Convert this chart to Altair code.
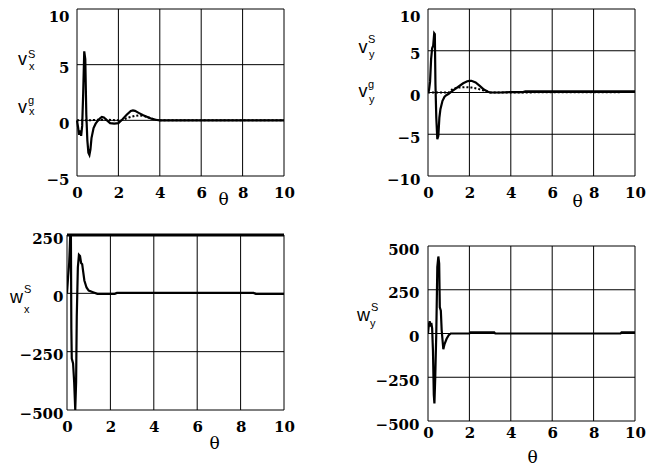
import altair as alt
import pandas as pd

# ---------------- data ----------------
THETA_TICKS = [0, 2, 4, 6, 8, 10]

# Panel 1: v_x^S (solid) and v_x^g (dotted)
th_vxs = [0, 0.05, 0.1, 0.15, 0.2, 0.25, 0.3, 0.35, 0.4, 0.45, 0.5, 0.55, 0.6, 0.65, 0.7, 0.8, 0.9, 1.0, 1.1, 1.2,
          1.3, 1.45, 1.6, 1.8, 2.0, 2.2, 2.4, 2.6, 2.7, 2.8, 3.0, 3.2, 3.4, 3.6, 3.8, 4.0, 4.3, 5, 6, 7, 8, 9, 10]
vxs = [0, -0.6, -1.3, -0.9, -1.4, -0.5, 2.5, 6.2, 5.5, 0.5, -1.8, -2.9, -3.1, -2.6, -1.6, -0.7, -0.3, -0.05, 0.15, 0.3,
       0.25, 0.0, -0.25, -0.3, -0.25, 0.1, 0.5, 0.85, 0.9, 0.85, 0.65, 0.45, 0.3, 0.15, 0.05, 0, 0, 0, 0, 0, 0, 0, 0]
th_vxg = [0, 0.5, 1.0, 1.5, 2.0, 2.2, 2.5, 2.8, 3.0, 3.2, 3.4, 3.6, 3.8, 4.0, 10]
vxg = [0, 0, 0.05, 0.05, 0, 0.05, 0.25, 0.4, 0.45, 0.4, 0.3, 0.15, 0.05, 0, 0]
vx_yticks = [-5, 0, 5, 10]

# Panel 2: v_y^S (solid) and v_y^g (dotted)
th_vys = [0, 0.05, 0.1, 0.15, 0.2, 0.25, 0.3, 0.33, 0.36, 0.4, 0.45, 0.5, 0.55, 0.6, 0.7, 0.8, 0.9, 1.0, 1.1, 1.3,
          1.5, 1.7, 1.9, 2.0, 2.1, 2.3, 2.5, 2.7, 2.9, 3.0, 3.5, 4.0, 4.6, 4.7, 10]
vys = [0, 0.3, 1.3, 4.0, 5.3, 5.6, 7.1, 7.0, 1.0, -3.0, -5.6, -5.2, -3.0, -2.0, -1.0, -0.5, -0.3, -0.15, 0.05, 0.4,
       0.75, 1.1, 1.35, 1.4, 1.4, 1.2, 0.8, 0.35, 0.1, 0.0, 0.0, 0.05, 0.05, 0.15, 0.15]
th_vyg = [0, 1.0, 1.2, 1.5, 1.8, 2.1, 2.4, 2.7, 3.0, 10]
vyg = [0, 0, 0.45, 0.6, 0.65, 0.6, 0.45, 0.25, 0, 0.05]
vy_yticks = [-10, -5, 0, 5, 10]

# Panel 3: w_x^S
th_wx = [0, 0.05, 0.1, 0.13, 0.15, 0.18, 0.2, 0.22, 0.28, 0.33, 0.38, 0.42, 0.45, 0.5, 0.55, 0.6, 0.65, 0.7, 0.75,
         0.8, 0.9, 1.0, 1.2, 1.4, 2.2, 2.3, 8.6, 8.7, 10]
wx = [0, 70, 130, 200, 250, 250, -150, -280, -300, -380, -500, -380, -100, 110, 165, 160, 130, 125, 90,
      55, 25, 12, 5, -2, -2, 2, 2, -2, -2]
wx_yticks = [-500, -250, 0, 250]

# Panel 4: w_y^S
th_wy = [0, 0.04, 0.08, 0.12, 0.16, 0.2, 0.24, 0.28, 0.31, 0.35, 0.4, 0.45, 0.5, 0.54, 0.57, 0.62, 0.66, 0.74, 0.8,
         0.9, 1.0, 1.1, 2.0, 2.05, 3.2, 3.25, 9.3, 9.35, 10]
wy = [0, 50, 70, 40, 60, 30, -100, -350, -400, -250, 0, 380, 440, 400, 150, 130, 20, -90, -60,
      -30, -10, 0, 0, 6, 6, 0, 0, 6, 6]
wy_yticks = [-500, -250, 0, 250, 500]

# axis-label pieces: (main letter, superscript, subscript)
LBL_P1 = [("v", "S", "x"), ("v", "g", "x")]
LBL_P2 = [("v", "S", "y"), ("v", "g", "y")]
LBL_P3 = [("w", "S", "x")]
LBL_P4 = [("w", "S", "y")]

ONE = pd.DataFrame({"k": [0]})
SERIF = "DejaVu Serif"
SANS = "Liberation Sans"


def glyph(t, x, y, size, align="left"):
    return alt.Chart(ONE).mark_text(
        text=t, font=SANS, fontSize=size, align=align, baseline="alphabetic", color="black"
    ).encode(x=alt.value(x), y=alt.value(y))


def ylabel(pieces, vx, vy, sx, sy, bx, by):
    main, sup, sub = pieces
    return [glyph(main, vx, vy, 18, "center"), glyph(sup, sx, sy, 11), glyph(sub, bx, by, 11)]


def panel(solid, dotted, yticks, width, height, xlabpad, ylabpad, theta_xy,
          labels, xrange=None, yrange=None, yoffset=0, top_cond=False, thick_top=False, anchor=None):
    ymin, ymax = yticks[0], yticks[-1]
    xs_kw = dict(domain=[0, 10], nice=False, zero=False)
    if xrange is not None:
        xs_kw["range"] = xrange
    ys_kw = dict(domain=[ymin, ymax], nice=False, zero=False)
    if yrange is not None:
        ys_kw["range"] = yrange
    xscale = alt.Scale(**xs_kw)
    yscale = alt.Scale(**ys_kw)

    xaxis = alt.Axis(values=THETA_TICKS, title="θ", titleX=theta_xy[0], titleY=theta_xy[1],
                     titleFont=SERIF, titleFontSize=17, titleFontWeight="normal", titleColor="black",
                     titleAlign="center", titleBaseline="middle", titleAngle=0,
                     labelFont=SERIF, labelFontSize=15, labelFontWeight="bold", labelColor="black",
                     labelPadding=xlabpad, labelFlush=False, labelOverlap=False,
                     ticks=False, tickSize=0, domain=False, grid=False, format="d")
    y_kw = dict(values=yticks, title="", orient="left",
                labelFont=SERIF, labelFontSize=15, labelFontWeight="bold", labelColor="black",
                labelPadding=ylabpad, labelFlush=False, labelOverlap=False,
                ticks=False, tickSize=0, domain=False, grid=False, format="d")
    if yoffset:
        y_kw["offset"] = yoffset
    if top_cond:
        test = f"datum.value == {ymax}"
        y_kw["labelBaseline"] = {"condition": {"test": test, "value": "top"}, "value": "middle"}
        y_kw["labelOffset"] = {"condition": {"test": test, "value": 0}, "value": 3}
    else:
        y_kw["labelOffset"] = 3
    yaxis = alt.Axis(**y_kw)

    vdf = pd.DataFrame({"x": THETA_TICKS, "y0": ymin, "y1": ymax})
    hdf = pd.DataFrame({"y": yticks, "x0": 0, "x1": 10})
    vr = alt.Chart(vdf).mark_rule(color="black", strokeWidth=1).encode(
        x=alt.X("x:Q", scale=xscale, axis=xaxis),
        y=alt.Y("y0:Q", scale=yscale, axis=yaxis), y2="y1:Q")
    hr = alt.Chart(hdf).mark_rule(color="black", strokeWidth=1).encode(
        y=alt.Y("y:Q", scale=yscale, axis=yaxis),
        x=alt.X("x0:Q", scale=xscale, axis=xaxis), x2="x1:Q")
    layers = [vr, hr]
    if thick_top:
        tdf = pd.DataFrame({"y": [ymax], "x0": [0], "x1": [10]})
        layers.append(alt.Chart(tdf).mark_rule(color="black", strokeWidth=3).encode(
            y=alt.Y("y:Q", scale=yscale, axis=yaxis),
            x=alt.X("x0:Q", scale=xscale, axis=xaxis), x2="x1:Q"))
    if dotted is not None:
        ddf = pd.DataFrame({"t": dotted[0], "v": dotted[1]})
        layers.append(alt.Chart(ddf).mark_line(color="black", strokeWidth=2, strokeDash=[2, 2], clip=True).encode(
            x=alt.X("t:Q", scale=xscale, axis=xaxis), y=alt.Y("v:Q", scale=yscale, axis=yaxis)))
    sdf = pd.DataFrame({"t": solid[0], "v": solid[1]})
    layers.append(alt.Chart(sdf).mark_line(color="black", strokeWidth=2.2, clip=True).encode(
        x=alt.X("t:Q", scale=xscale, axis=xaxis), y=alt.Y("v:Q", scale=yscale, axis=yaxis)))
    layers += labels
    if anchor is not None:
        layers.append(alt.Chart(ONE).mark_rule(opacity=0, strokeWidth=1).encode(
            x=alt.value(anchor), x2=alt.value(anchor + 1), y=alt.value(60)))
    return alt.layer(*layers).properties(width=width, height=height)


p1 = panel((th_vxs, vxs), (th_vxg, vxg), vx_yticks, 217, 167, 9, 8, (156, 23),
           ylabel(LBL_P1[0], -44.5, 56, -39, 49, -38, 60.5) + ylabel(LBL_P1[1], -44.5, 104, -39, 95, -38, 106),
           xrange=[10, 217], yoffset=-10, top_cond=True)
p2 = panel((th_vys, vys), (th_vyg, vyg), vy_yticks, 207, 167, 9, 8, (149, 25),
           ylabel(LBL_P2[0], -65, 44, -60, 34, -59, 49) + ylabel(LBL_P2[1], -65, 88, -60, 79, -59, 94),
           top_cond=True)
p3 = panel((th_wx, wx), None, wx_yticks, 217, 175, 9, 4, (147, 33),
           ylabel(LBL_P3[0], -50.5, 68, -43, 58, -43, 78), thick_top=True, anchor=-59)
p4 = panel((th_wy, wy), None, wy_yticks, 207, 186, 4, 9, (104, 36),
           ylabel(LBL_P4[0], -64.5, 86, -57, 76, -58, 92), yrange=[186, 11])

chart = alt.concat(p1, p2, p3, p4, columns=2, spacing=alt.RowColnumber(row=59, column=144),
                   bounds="flush", align="each").properties(
    padding={"left": 0, "top": 0, "right": 5, "bottom": 0}, background="white"
).configure_view(strokeWidth=0)

chart.save("out.html", embed_options={"renderer": "svg", "actions": False})
